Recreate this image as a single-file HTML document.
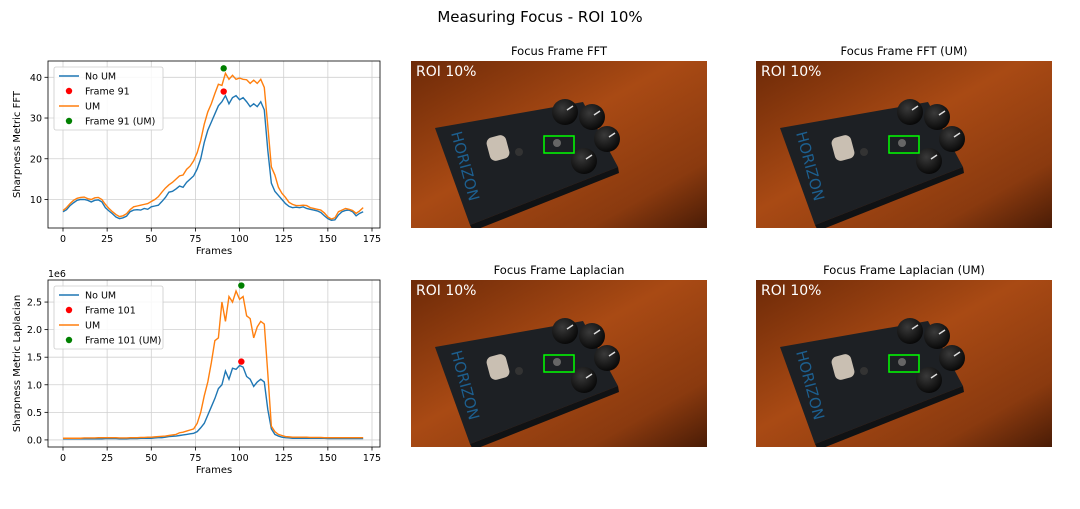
<!DOCTYPE html>
<html><head><meta charset="utf-8"><style>
body{margin:0;background:#fff;width:1080px;height:504px;overflow:hidden;font-family:"Liberation Sans","DejaVu Sans",sans-serif}
svg text{font-family:"DejaVu Sans","Liberation Sans",sans-serif}
</style></head><body>
<svg id="fig" width="1080" height="504" xmlns="http://www.w3.org/2000/svg">
<defs>
<linearGradient id="wood" x1="0" y1="0" x2="1" y2="1">
<stop offset="0" stop-color="#6e2a08"/><stop offset="0.45" stop-color="#a94a14"/><stop offset="0.8" stop-color="#8a3a0f"/><stop offset="1" stop-color="#4a1c06"/>
</linearGradient>
<radialGradient id="knob" cx="0.4" cy="0.35" r="0.7"><stop offset="0" stop-color="#3a3a3a"/><stop offset="1" stop-color="#050505"/></radialGradient>
<clipPath id="imgclip"><rect x="0" y="0" width="296" height="167"/></clipPath>
</defs>
<text x="540" y="22" text-anchor="middle" font-size="15">Measuring Focus - ROI 10%</text>
<g id="c1"></g><g id="c2"></g><g id="imgs"></g>
</svg>
<script>
const NS="http://www.w3.org/2000/svg";
const frames=[0,2,4,6,8,10,12,14,16,18,20,22,24,26,28,30,32,34,36,38,40,42,44,46,48,50,52,54,56,58,60,62,64,66,68,70,72,74,76,78,80,82,84,86,88,90,92,94,96,98,100,102,104,106,108,110,112,114,116,118,120,122,124,126,128,130,132,134,136,138,140,142,144,146,148,150,152,154,156,158,160,162,164,166,168,170];
const fftNoUM=[7,7.5,8.5,9.2,9.8,10,10,9.8,9.4,9.8,9.9,9.4,8,7.2,6.5,5.7,5.3,5.5,5.9,7,7.4,7.5,7.4,7.8,7.6,8.2,8.4,8.6,9.5,10.5,11.8,12,12.6,13.3,13,14.2,15,15.8,17.5,20,24,27,29,31,33,34,35.5,33.5,35,35.5,34.5,35,34,32.8,33.5,32.8,34,32,22,14,12,11,10,9,8.3,8,8.1,8,8.2,7.8,7.6,7.4,7.2,6.8,6,5.3,4.9,5,6.2,7,7.3,7.4,7,6,6.6,7];
const fftUM=[7.3,8,9,9.8,10.3,10.5,10.6,10.2,10,10.4,10.5,10,8.8,7.8,7,6.3,5.8,6,6.5,7.5,8.2,8.4,8.6,8.8,9,9.5,10,10.7,11.8,12.8,13.6,14.2,15,15.8,16,17.4,18.2,19.5,21.5,24.5,28.5,31.5,33.5,36,38.3,38,41,39.5,40.5,39.5,39.8,39.5,39.4,38.5,39.3,38.5,39.5,37.5,28,18,16,13,11.5,10.5,9.3,8.8,8.5,8.5,8.6,8.5,8,7.8,7.6,7.4,6.7,5.7,5.2,5.5,7,7.4,7.8,7.6,7.3,6.6,7.2,8];
const lapNoUM=[0.02,0.02,0.02,0.02,0.02,0.02,0.02,0.02,0.02,0.02,0.02,0.02,0.025,0.025,0.025,0.025,0.02,0.02,0.02,0.025,0.025,0.025,0.03,0.03,0.03,0.03,0.035,0.04,0.04,0.05,0.06,0.065,0.07,0.08,0.09,0.1,0.11,0.12,0.15,0.22,0.3,0.45,0.6,0.75,0.93,1.0,1.25,1.1,1.3,1.28,1.35,1.32,1.15,1.1,0.97,1.05,1.1,1.05,0.55,0.2,0.1,0.07,0.05,0.04,0.035,0.03,0.03,0.03,0.03,0.03,0.03,0.03,0.03,0.03,0.03,0.025,0.025,0.025,0.025,0.025,0.025,0.025,0.025,0.025,0.025,0.025];
const lapUM=[0.03,0.03,0.03,0.03,0.03,0.03,0.035,0.035,0.035,0.035,0.04,0.04,0.04,0.04,0.04,0.04,0.035,0.035,0.035,0.04,0.04,0.04,0.045,0.045,0.05,0.05,0.055,0.06,0.065,0.07,0.08,0.09,0.1,0.13,0.14,0.16,0.18,0.2,0.3,0.5,0.8,1.05,1.4,1.8,1.85,2.5,2.15,2.6,2.5,2.7,2.55,2.6,2.25,2.2,1.85,2.05,2.15,2.1,1.2,0.25,0.15,0.1,0.08,0.06,0.055,0.05,0.05,0.05,0.05,0.05,0.045,0.045,0.045,0.045,0.04,0.04,0.04,0.04,0.04,0.04,0.04,0.04,0.04,0.04,0.04,0.04];
const xTicks=[0,25,50,75,100,125,150,175];
const fftYTicks=[10,20,30,40];
const lapYTicks=[0,0.5,1.0,1.5,2.0,2.5];
const fftBest=[91,36.5,91,42.2];
const lapBest=[101,1.42,101,2.8];

function el(t,a,p){const e=document.createElementNS(NS,t);for(const k in a)e.setAttribute(k,a[k]);p.appendChild(e);return e;}

function chart(g,top,bot,yMin,yMax,yTicks,fmt,s1,s2,best,ylabel,lbl1,lbl2,exp){
  const L=48,R=380;
  const x=v=>63+v*(309/175);
  const y=v=>bot-(v-yMin)/(yMax-yMin)*(bot-top);
  el('rect',{x:L,y:top,width:R-L,height:bot-top,fill:'#fff'},g);
  xTicks.forEach(t=>{const l=el('line',{x1:x(t),x2:x(t),y1:top,y2:bot,stroke:'#d0d0d0','stroke-width':0.8},g);
    
    el('line',{x1:x(t),x2:x(t),y1:bot,y2:bot+3.5,stroke:'#000','stroke-width':0.8},g);
    const tx=el('text',{x:x(t),y:bot+14,'text-anchor':'middle','font-size':9.5},g);tx.textContent=t;
    });
  yTicks.forEach(t=>{el('line',{x1:L,x2:R,y1:y(t),y2:y(t),stroke:'#d0d0d0','stroke-width':0.8},g);
    el('line',{x1:L-3.5,x2:L,y1:y(t),y2:y(t),stroke:'#000','stroke-width':0.8},g);
    const tx=el('text',{x:L-6,y:y(t)+3.5,'text-anchor':'end','font-size':9.5},g);tx.textContent=fmt(t);
    });
  const mk=(d,c,n)=>{const p=el('polyline',{points:frames.map((f,i)=>x(f)+','+y(d[i])).join(' '),fill:'none',stroke:c,'stroke-width':1.4},g);
    };
  mk(s1,'#1f77b4','line-no-um');mk(s2,'#ff7f0e','line-um');
  const d1=el('circle',{cx:x(best[0]),cy:y(best[1]),r:3.2,fill:'red'},g);
  
  const d2=el('circle',{cx:x(best[2]),cy:y(best[3]),r:3.2,fill:'green'},g);
  
  el('rect',{x:L,y:top,width:R-L,height:bot-top,fill:'none',stroke:'#000','stroke-width':0.8},g);
  const xl=el('text',{x:214,y:bot+26,'text-anchor':'middle','font-size':10},g);xl.textContent='Frames';
  
  const cy=(top+bot)/2;
  const yl=el('text',{x:20,y:cy,'text-anchor':'middle','font-size':10,transform:`rotate(-90 20 ${cy})`},g);yl.textContent=ylabel;
  
  if(exp){const e=el('text',{x:48,y:top-3,'font-size':9.5},g);e.textContent=exp;
    }
  const lg=el('g',{},g);
  const lx=54,ly=top+6;
  el('rect',{x:lx,y:ly,width:lbl2.length>15?114:109,height:63,rx:2,fill:'#fff','fill-opacity':0.85,stroke:'#ccc','stroke-width':0.8},lg);
  const items=[['line','#1f77b4','No UM'],['dot','red',lbl1],['line','#ff7f0e','UM'],['dot','green',lbl2]];
  items.forEach((it,i)=>{const yy=ly+9+i*15;
    if(it[0]=='line')el('line',{x1:lx+5,x2:lx+25,y1:yy,y2:yy,stroke:it[1],'stroke-width':1.5},lg);
    else el('circle',{cx:lx+15,cy:yy,r:3.2,fill:it[1]},lg);
    const t=el('text',{x:lx+31,y:yy+3.5,'font-size':9.5},lg);t.textContent=it[2];
    });
}
chart(document.getElementById('c1'),61,228,3,44,fftYTicks,t=>t,fftNoUM,fftUM,fftBest,'Sharpness Metric FFT','Frame 91','Frame 91 (UM)',null);
chart(document.getElementById('c2'),280,447,-0.1285,2.9,lapYTicks,t=>t.toFixed(1),lapNoUM,lapUM,lapBest,'Sharpness Metric Laplacian','Frame 101','Frame 101 (UM)','1e6');

const imgs=document.getElementById('imgs');
function photo(x0,y0,title,name){
  const outer=el('g',{transform:`translate(${x0},${y0})`},imgs);
  
  const tt=el('text',{x:148,y:-6,'text-anchor':'middle','font-size':11.5},outer);tt.textContent=title;
  
  const g=el('g',{'clip-path':'url(#imgclip)'},outer);
  el('rect',{x:0,y:0,width:296,height:167,fill:'url(#wood)'},g);
  el('polygon',{points:'24,67 172,41 207,106 59,164',fill:'#1d2024'},g);
  el('polygon',{points:'59,164 207,106 208,112 62,170',fill:'#101214'},g);
  el('rect',{x:77,y:75,width:20,height:24,rx:6,fill:'#c9bfb2',transform:'rotate(-15 87 87)'},g);
  el('circle',{cx:108,cy:91,r:4,fill:'#333'},g);
  [[154,51],[181,56],[196,78],[173,100]].forEach(k=>{el('circle',{cx:k[0],cy:k[1],r:13,fill:'url(#knob)'},g);
    el('line',{x1:k[0]+2,y1:k[1]-2,x2:k[0]+8,y2:k[1]-6,stroke:'#ddd','stroke-width':1.5},g);});
  el('circle',{cx:146,cy:82,r:4,fill:'#666'},g);
  const h=el('text',{x:40,y:72,'font-size':15,fill:'#1d5f8f',transform:'rotate(75 40 72)'},g);h.textContent='HORIZON';
  const r=el('rect',{x:133,y:75,width:30,height:17,fill:'none',stroke:'#00ff00','stroke-width':1.5},g);
  
  const t=el('text',{x:5,y:15,'font-size':14,fill:'#fff'},g);t.textContent='ROI 10%';
  
}
photo(411,61,'Focus Frame FFT','image-focus-fft');
photo(756,61,'Focus Frame FFT (UM)','image-focus-fft-um');
photo(411,280,'Focus Frame Laplacian','image-focus-laplacian');
photo(756,280,'Focus Frame Laplacian (UM)','image-focus-laplacian-um');
</script>
</body></html>
